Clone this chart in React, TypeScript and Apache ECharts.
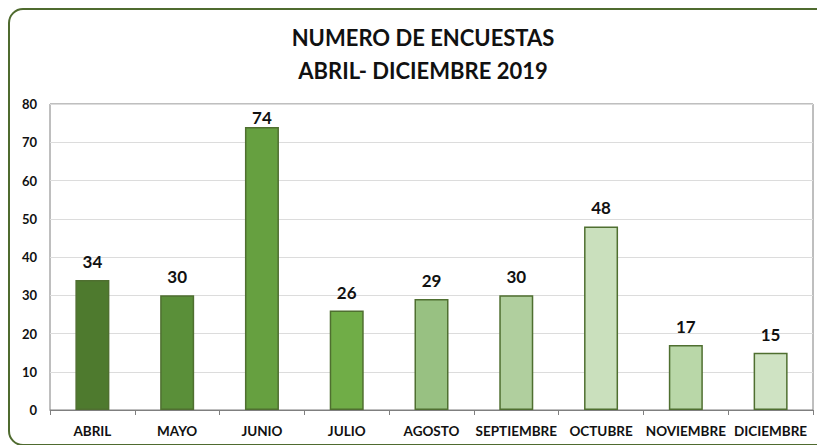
import React, { useEffect, useRef } from "react";
import * as echarts from "echarts";

const categories = ["ABRIL", "MAYO", "JUNIO", "JULIO", "AGOSTO", "SEPTIEMBRE", "OCTUBRE", "NOVIEMBRE", "DICIEMBRE"];
const values = [34, 30, 74, 26, 29, 30, 48, 17, 15];
const barColors = ["#4e7a2e", "#5a8f39", "#66a040", "#70ad47", "#98c182", "#b0cf9e", "#cae0bd", "#b9d7a8", "#cfe3c3"];
const titleLines = ["NUMERO DE ENCUESTAS", "ABRIL- DICIEMBRE 2019"];

const FONT = "Lato, 'Open Sans', sans-serif";

export default function App() {
  const ref = useRef<HTMLDivElement>(null);
  useEffect(() => {
    if (!ref.current) return;
    const chart = echarts.init(ref.current, undefined, { renderer: "svg" });
    chart.setOption({
      animation: false,
      backgroundColor: "#ffffff",
      title: {
        text: titleLines.join("\n"),
        left: 418,
        textAlign: "center",
        top: 16,
        textStyle: { fontFamily: FONT, fontWeight: "bold", fontSize: 22, color: "#111", lineHeight: 33 },
      },
      graphic: [
        {
          type: "rect",
          shape: { x: 9, y: 9, width: 840, height: 436, r: 14 },
          style: { fill: "none", stroke: "#4f6b2f", lineWidth: 2 },
          silent: true,
          z: 100,
        },
      ],
      grid: { left: 50, top: 104, right: 4, bottom: 35, show: true, borderColor: "#7f7f7f", borderWidth: 1 },
      xAxis: {
        type: "category",
        data: categories,
        axisLine: { lineStyle: { color: "#7f7f7f" } },
        axisTick: { show: true, length: 5, lineStyle: { color: "#7f7f7f" } },
        axisLabel: { fontFamily: FONT, fontWeight: "bold", fontSize: 13.5, color: "#111", margin: 14, interval: 0 },
      },
      yAxis: {
        type: "value",
        min: 0,
        max: 80,
        interval: 10,
        axisLine: { show: false },
        axisTick: { show: false },
        splitLine: { lineStyle: { color: "#dcdcdc" } },
        axisLabel: { fontFamily: FONT, fontWeight: "bold", fontSize: 13, color: "#111", margin: 13 },
      },
      series: [
        {
          type: "bar",
          barWidth: 34,
          data: values.map((v, i) => ({
            value: v,
            itemStyle: { color: barColors[i], borderColor: "#4f6f30", borderWidth: 1.5 },
            label: { distance: v > 70 ? 1 : 10 },
          })),
          label: {
            show: true,
            position: "top",
            distance: 10,
            fontFamily: FONT,
            fontWeight: "bold",
            fontSize: 17,
            color: "#111",
          },
        },
      ],
    });
    return () => chart.dispose();
  }, []);
  return <div ref={ref} style={{ position: "fixed", left: 0, top: 0, width: 817, height: 445 }} />;
}
